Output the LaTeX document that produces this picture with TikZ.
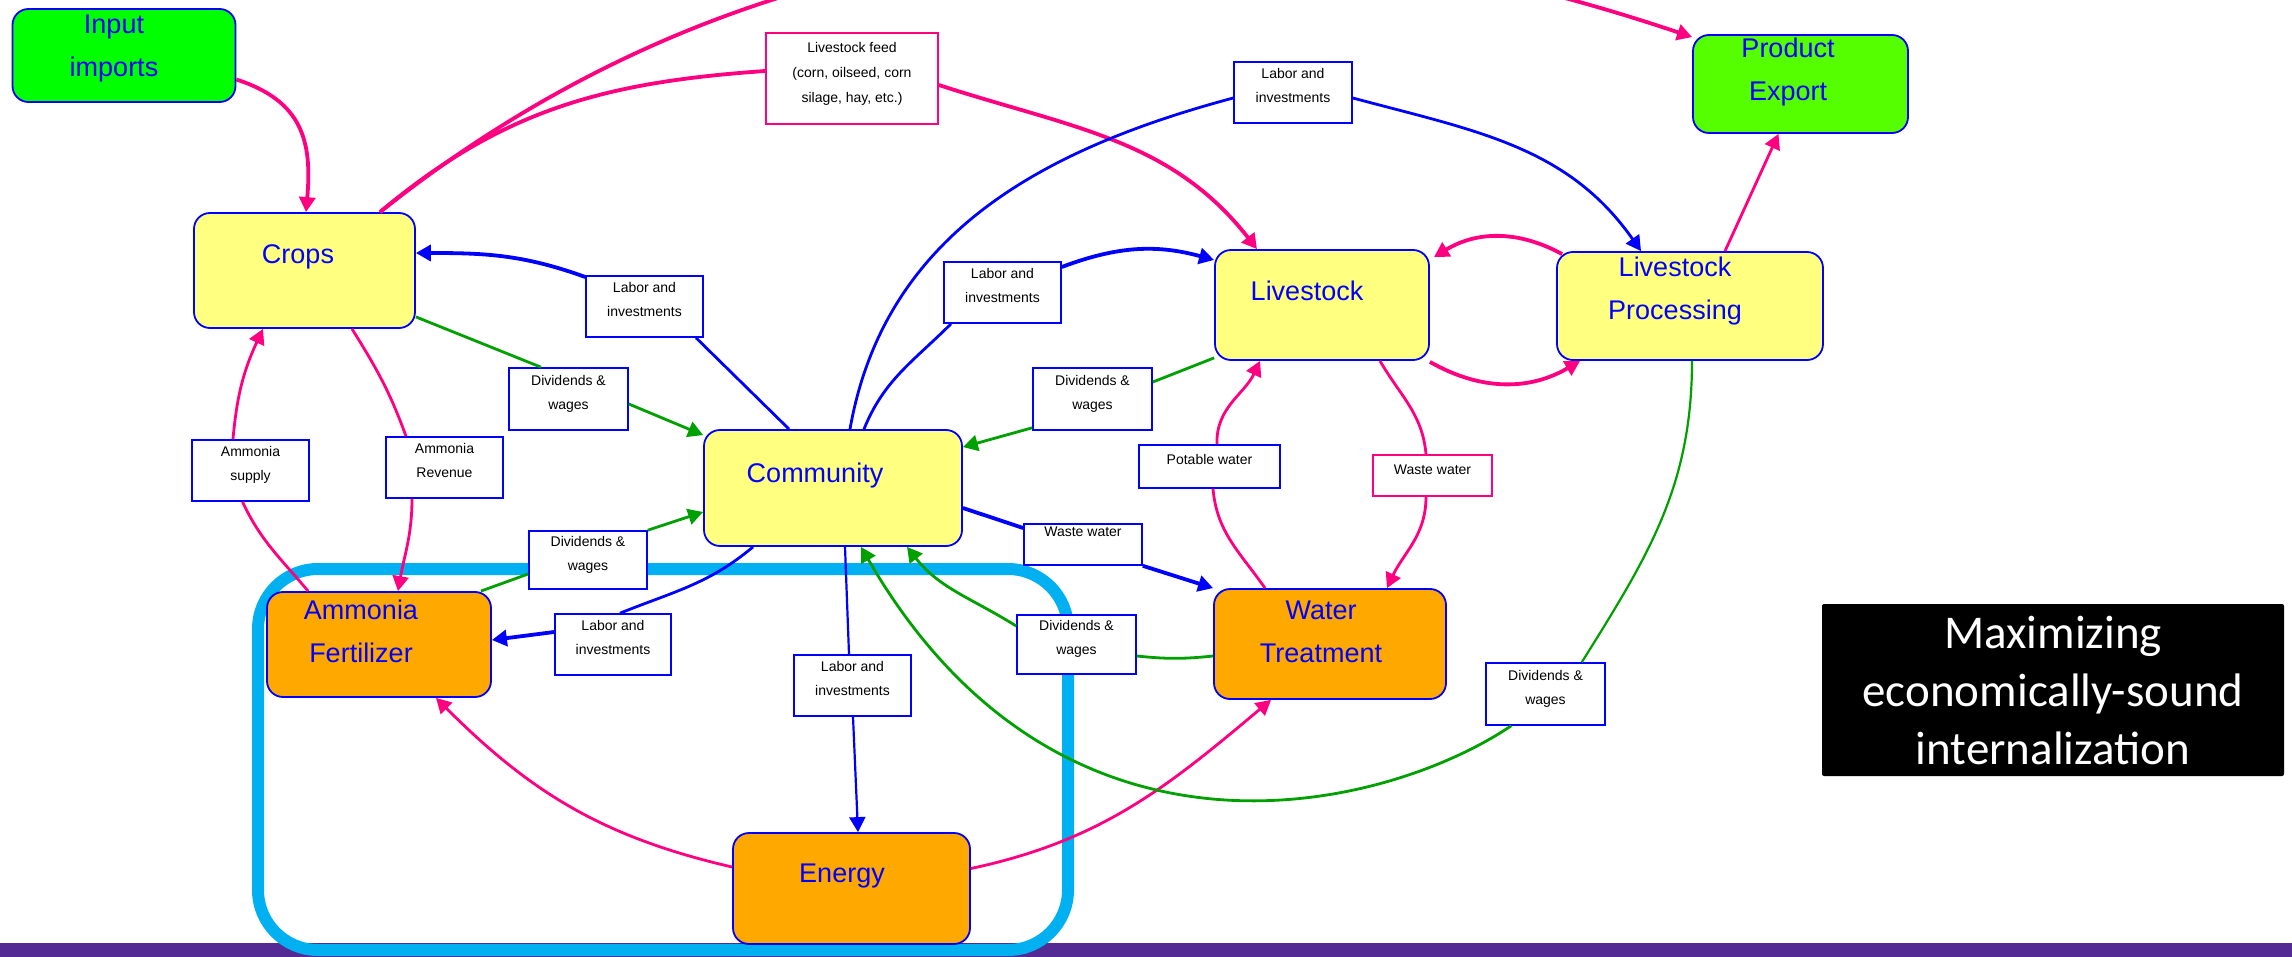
\documentclass[tikz,border=0pt]{standalone}
\usepackage{fontspec}
\setmainfont{Liberation Sans}
\newfontfamily\calibfont{Carlito}
\usetikzlibrary{arrows.meta}

\definecolor{flowpink}{RGB}{255,0,128}
\definecolor{flowgreen}{RGB}{0,160,0}
\definecolor{yelbox}{RGB}{255,255,128}
\definecolor{inputgreen}{RGB}{0,255,0}
\definecolor{exportgreen}{RGB}{85,255,0}
\definecolor{orangebox}{RGB}{255,168,0}
\definecolor{framecyan}{RGB}{0,176,240}
\definecolor{barpurple}{RGB}{84,42,148}

\begin{document}
\begin{tikzpicture}[x=0.5pt,y=0.5pt,
  box/.style={draw=blue, line width=0.9pt, rounded corners=8pt, inner sep=0pt},
  boxtext/.style={text=blue, font=\fontsize{13.5}{21.5}\selectfont, align=center, inner sep=0pt},
  tag/.style={draw=blue, line width=0.8pt, fill=white, inner sep=0pt, align=center,
    font=\fontsize{7}{12}\selectfont, text height=17pt, text depth=7pt},
  pk/.style={draw=flowpink, line width=1.4pt},
  bl/.style={draw=blue, line width=1.4pt},
  gr/.style={draw=flowgreen, line width=1.4pt},
  heavy/.style={line width=1.9pt},
  tip/.style={-{Triangle[length=7.5pt,width=8pt]}}]

\useasboundingbox (0,0) rectangle (2292,-957);
\fill[barpurple] (0,-943) rectangle (2292,-957);
\draw[framecyan, line width=6pt, rounded corners=30pt] (258,-569) rectangle (1068,-950);

% main boxes
\node[box, fill=inputgreen, minimum width=111.5pt, minimum height=46.5pt] (inp) at (124,-55.5) {};
\node[boxtext] (inpT) at (114,-48.5) {Input\\imports};
\node[box, fill=yelbox, minimum width=110.5pt, minimum height=57.5pt] (crops) at (304.5,-270.5) {};
\node[boxtext] (cropsT) at (298,-257) {Crops};
\node[box, fill=exportgreen, minimum width=107.5pt, minimum height=49pt] (prod) at (1800.5,-84) {};
\node[boxtext] (prodT) at (1788,-72.5) {Product\\Export};
\node[box, fill=yelbox, minimum width=107pt, minimum height=55pt] (lvs) at (1322,-305) {};
\node[boxtext] (lvsT) at (1307,-291) {Livestock};
\node[box, fill=yelbox, minimum width=133pt, minimum height=54pt] (lvp) at (1690,-306) {};
\node[boxtext] (lvpT) at (1675,-291.5) {Livestock\\Processing};
\node[box, fill=yelbox, minimum width=129pt, minimum height=58pt] (comm) at (833,-488) {};
\node[boxtext] (commT) at (815,-476) {Community};
\node[box, fill=orangebox, minimum width=112pt, minimum height=52.5pt] (amf) at (379,-644.5) {};
\node[boxtext] (amfT) at (361,-631.5) {Ammonia\\Fertilizer};
\node[box, fill=orangebox, minimum width=116pt, minimum height=55pt] (wtr) at (1330,-644) {};
\node[boxtext] (wtrT) at (1321,-631.5) {Water\\Treatment};
\node[box, fill=orangebox, minimum width=118.5pt, minimum height=55.5pt] (enr) at (851.5,-888.5) {};
\node[boxtext] (enrT) at (842,-876) {Energy};

% flow tags
\node[tag, draw=flowpink, minimum width=86pt, minimum height=45.5pt, font=\fontsize{7}{12.5}\selectfont, text height=30pt, text depth=5.5pt] (feed) at (852,-78.5) {Livestock feed\\(corn, oilseed, corn\\silage, hay, etc.)};
\node[tag, minimum width=59pt, minimum height=30.5pt] (labTop) at (1293,-92.5) {Labor and\\investments};
\node[tag, minimum width=58.5pt, minimum height=30.5pt] (labCrops) at (644.5,-306.5) {Labor and\\investments};
\node[tag, minimum width=58.5pt, minimum height=30.5pt] (labLvs) at (1002.5,-292.5) {Labor and\\investments};
\node[tag, minimum width=59.5pt, minimum height=31pt] (divCrops) at (568.5,-399) {Dividends \&\\wages};
\node[tag, minimum width=59.5pt, minimum height=31pt] (divLvs) at (1092.5,-399) {Dividends \&\\wages};
\node[tag, minimum width=58.5pt, minimum height=30.5pt] (amSup) at (250.5,-470.5) {Ammonia\\supply};
\node[tag, minimum width=58.5pt, minimum height=30.5pt] (amRev) at (444.5,-467.5) {Ammonia\\Revenue};
\node[tag, minimum width=59pt, minimum height=29pt] (divAmf) at (588,-560) {Dividends \&\\wages};
\node[tag, minimum width=58pt, minimum height=30.5pt] (labAmf) at (613,-644.5) {Labor and\\investments};
\node[tag, minimum width=58.5pt, minimum height=30.5pt] (labEnr) at (852.5,-685.5) {Labor and\\investments};
\node[tag, minimum width=59pt, minimum height=20.5pt, text height=5pt, text depth=13pt] (wasteC) at (1083,-544.5) {Waste water};
\node[tag, minimum width=59.5pt, minimum height=29.5pt] (divWtr) at (1076.5,-644.5) {Dividends \&\\wages};
\node[tag, minimum width=70.5pt, minimum height=21.5pt, text height=5pt, text depth=7.5pt] (potable) at (1209.5,-466.5) {Potable water};
\node[tag, draw=flowpink, minimum width=59.5pt, minimum height=20.5pt, text height=5pt, text depth=6.5pt] (wasteL) at (1432.5,-475.5) {Waste water};
\node[tag, minimum width=59.5pt, minimum height=31pt] (divLvp) at (1545.5,-694) {Dividends \&\\wages};

\node[fill=black, rounded corners=1pt, minimum width=231pt, minimum height=86pt, inner sep=0pt,
  text=white, align=center, font=\calibfont\fontsize{23.5}{29}\selectfont] (note) at (2053,-690)
  {Maximizing\\economically-sound\\internalization};

% material flows
\draw[pk, heavy, tip] ([yshift=-12pt]inp.east) to[out=-18, in=85, looseness=1.2] ([xshift=0.75pt]crops.north);
\draw[pk, heavy, tip] ([xshift=37.75pt]crops.north) .. controls +(380,303) and +(-474,160) .. ([yshift=-1.5pt]prod.north west);
\draw[pk, heavy] ([xshift=37.75pt]crops.north) to[out=40, in=184] ([yshift=3.75pt]feed.west);
\draw[pk, heavy, tip] ([yshift=-3.25pt]feed.east) to[out=-18, in=128] ([xshift=-32.5pt]lvs.north);
\draw[pk, heavy, tip] ([xshift=3pt,yshift=-1.5pt]lvp.north west) to[bend right=30] ([xshift=2pt,yshift=-4pt]lvs.north east);
\draw[pk, heavy, tip] ([yshift=-0.5pt]lvs.south east) to[bend right=30] ([xshift=12pt]lvp.south west);
\draw[pk, tip] ([xshift=17.5pt]lvp.north) -- ([xshift=-11pt]prod.south);
\draw[pk] ([xshift=21pt]amf.north west) to[out=130, in=-65] ([xshift=-4pt]amSup.south);
\draw[pk, tip] ([xshift=-8.75pt]amSup.north) to[out=85, in=-115] ([xshift=-20.75pt]crops.south);
\draw[pk] ([xshift=23.75pt]crops.south) to[out=-58, in=110] ([xshift=-19.25pt]amRev.north);
\draw[pk, tip] ([xshift=-16.25pt]amRev.south) to[out=-90, in=80] ([xshift=9.5pt]amf.north);
\draw[pk, tip] ([yshift=10.75pt]enr.west) to[out=167, in=-45] ([xshift=28.5pt]amf.south);
\draw[pk, tip] ([yshift=10pt]enr.east) to[out=12, in=-140] ([xshift=-29.5pt]wtr.south);
\draw[pk] ([xshift=-32.5pt]wtr.north) to[out=125, in=-85] ([xshift=1.75pt]potable.south);
\draw[pk, tip] ([xshift=3.75pt]potable.north) to[out=92, in=-115] ([xshift=-31pt]lvs.south);
\draw[pk] ([xshift=29pt]lvs.south) to[out=-60, in=95] ([xshift=-3.25pt]wasteL.north);
\draw[pk, tip] ([xshift=-3.25pt]wasteL.south) to[out=-90, in=65] ([xshift=28.5pt]wtr.north);

% labor and investments
\draw[bl] ([xshift=-22pt]comm.north) -- ([xshift=25.75pt]labCrops.south);
\draw[bl, heavy, tip] ([yshift=14.75pt]labCrops.west) to[out=160, in=0] ([yshift=8.75pt]crops.east);
\draw[bl] ([xshift=8.5pt]comm.north) to[out=80, in=195] ([yshift=-2.75pt]labTop.west);
\draw[bl, tip] ([yshift=-2.75pt]labTop.east) to[out=-15, in=125] ([xshift=-24.5pt]lvp.north);
\draw[bl] ([xshift=15.5pt]comm.north) to[out=68, in=-135] ([xshift=-25.75pt]labLvs.south);
\draw[bl, heavy, tip] ([yshift=12.75pt]labLvs.east) to[bend left=18] ([yshift=22.5pt]lvs.west);
\draw[bl] ([xshift=-40pt]comm.south) to[out=-140, in=22] ([xshift=3.5pt]labAmf.north);
\draw[bl, heavy, tip] ([yshift=6.25pt]labAmf.west) -- ([yshift=2.25pt]amf.east);
\draw[bl, line width=1.1pt] ([xshift=6pt]comm.south) -- ([xshift=-1.75pt]labEnr.north);
\draw[bl, line width=1.1pt, tip] ([xshift=0.25pt]labEnr.south) -- ([xshift=3.25pt]enr.north);
\draw[bl, heavy] ([yshift=-10pt]comm.east) -- ([yshift=8.25pt]wasteC.west);
\draw[bl, heavy, tip] (wasteC.south east) -- (wtr.north west);

% dividends and wages
\draw[gr] ([yshift=6pt]crops.south east) -- ([xshift=-13.75pt]divCrops.north);
\draw[gr, tip] ([yshift=-2.5pt]divCrops.east) -- ([yshift=-3pt]comm.north west);
\draw[gr] ([yshift=1.5pt]lvs.south west) -- ([yshift=8.5pt]divLvs.east);
\draw[gr, tip] ([yshift=1.5pt]divLvs.south west) -- ([yshift=-9pt]comm.north east);
\draw[gr] ([xshift=-5.5pt]amf.north east) -- ([yshift=-7pt]divAmf.west);
\draw[gr, tip] (divAmf.north east) -- ([yshift=-12pt]comm.west);
\draw[gr] ([yshift=-6pt]wtr.west) to[bend left=6] ([yshift=-5.75pt]divWtr.east);
\draw[gr, tip] ([yshift=9.25pt]divWtr.west) to[out=148, in=-52] ([xshift=37pt]comm.south);
\draw[gr, line width=1.1pt] ([xshift=1pt]lvp.south) to[out=-90, in=58] ([xshift=-12pt]divLvp.north east);
\draw[gr, tip] ([xshift=13pt]divLvp.south west) .. controls +(-146:150) and +(-60:400) .. ([xshift=14pt]comm.south);

\end{tikzpicture}
\end{document}
